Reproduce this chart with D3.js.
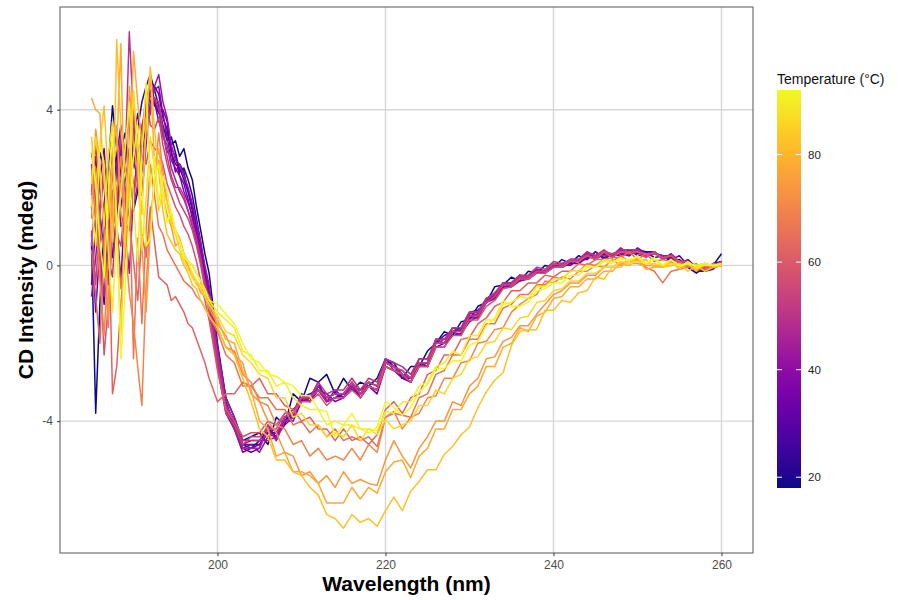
<!DOCTYPE html>
<html>
<head>
<meta charset="utf-8">
<script src="https://cdn.jsdelivr.net/npm/d3@7"></script>
<style>
  body { margin: 0; background: #fff; }
  svg { font-family: "Liberation Sans", Arial, Helvetica, sans-serif; }
  .tick text { fill: #4d4d4d; font-size: 12px; }
  .tick line { stroke: #333; }
  .domain { display: none; }
</style>
</head>
<body>
<svg id="chart" width="898" height="600"></svg>
<script>
// wavelength grid (nm): half-nm readings in the noisy far-UV part, then 1 nm
const wavelengths = d3.range(185, 199.5, 0.5).concat(d3.range(200, 261));

// CD spectra (mdeg), one array per temperature
const cd18 = [0.6,-3.8,-1.0,1.2,2.5,4.1,3.0,1.5,2.2,2.8,1.4,1.9,3.1,3.9,4.4,4.1,4.0,3.5,3.4,3.1,3.2,2.8,3.0,2.5,2.2,1.5,0.9,0.3,-0.2,
  -2.0,-3.4,-3.9,-4.5,-4.4, -4.3,-4.6,-3.9,-4.1,-3.3,-3.5,-2.9,-3.0,-2.8,-3.3, -2.9,-3.2,-3.0,-3.1,-2.9, -2.4,-2.5,-2.9,-2.6,-2.6, -2.2,-2.0,-1.7,-1.8,-1.45,-1.4,-1.05,-0.95,-0.55,-0.5, -0.3,-0.4,-0.15,-0.2,0.0,-0.05,0.15,0.05,0.25,0.15, 0.35,0.2,0.3,0.25,0.4,0.3,0.35,0.2,0.25,0.1, 0.15,-0.05,-0.2,-0.05,0.0,0.3];
const cd22 = [1.5,0.8,2.9,2.5,-0.5,0.9,1.8,3.0,3.4,2.1,2.6,3.5,4.2,4.6,4.9,4.5,4.1,3.6,3.2,3.3,2.9,2.4,2.5,2.2,1.8,1.2,0.6,-0.1,-0.6,
  -2.3,-3.6,-4.0,-4.6,-4.7, -4.5,-4.2,-4.4,-3.9,-3.9,-3.4,-3.3,-3.2,-3.5,-3.4, -3.3,-3.0,-3.3,-3.0,-3.1, -2.4,-2.6,-2.8,-2.9,-2.5, -2.5,-1.9,-1.9,-1.7,-1.65,-1.35,-1.25,-0.85,-0.75,-0.45, -0.45,-0.3,-0.3,-0.1,-0.15,0.0,-0.05,0.1,0.1,0.25, 0.2,0.3,0.25,0.4,0.25,0.4,0.35,0.35,0.2,0.25, 0.1,0.1,-0.15,-0.15,-0.05,0.1];
const cd26 = [2.9,2.2,0.3,-1.0,0.4,1.5,2.8,3.6,2.4,2.0,3.2,3.9,3.3,4.2,4.7,4.6,4.4,3.8,3.5,2.9,2.6,2.5,2.2,1.9,1.4,0.8,0.3,-0.3,-0.9,
  -2.5,-3.7,-4.2,-4.7,-4.6, -4.6,-4.3,-4.3,-4.0,-3.8,-3.3,-3.5,-3.1,-3.4,-3.3, -3.4,-3.1,-3.2,-3.1,-3.2, -2.5,-2.5,-2.9,-2.9,-2.4, -2.4,-2.0,-1.8,-1.7,-1.6,-1.2,-1.15,-0.95,-0.75,-0.5, -0.45,-0.25,-0.35,-0.15,-0.15,0.0,-0.05,0.15,0.15,0.35, 0.15,0.3,0.3,0.35,0.35,0.35,0.3,0.3,0.25,0.2, 0.05,0.15,-0.05,-0.1,-0.05,0.05];
const cd30 = [-0.5,1.0,2.2,3.0,1.4,0.2,1.3,2.6,1.9,1.2,4.0,3.1,2.7,3.8,4.5,4.2,3.9,4.0,3.7,2.9,2.4,2.6,2.4,1.9,1.5,1.0,0.5,-0.2,-0.8,
  -2.2,-3.5,-4.1,-4.7,-4.8, -4.7,-4.1,-4.5,-3.9,-3.7,-3.5,-3.4,-3.0,-3.5,-3.4, -3.3,-3.1,-3.4,-3.1,-3.2, -2.5,-2.6,-2.8,-3.0,-2.5, -2.6,-2.0,-2.0,-1.6,-1.7,-1.3,-1.25,-0.9,-0.8,-0.55, -0.5,-0.35,-0.35,-0.15,-0.15,-0.05,0.05,0.0,0.15,0.15, 0.35,0.15,0.3,0.25,0.4,0.25,0.3,0.3,0.25,0.15, 0.25,0.0,-0.05,-0.15,0.05,0.1];
const cd34 = [0.8,-1.2,0.5,1.6,2.3,2.8,1.1,-0.4,1.6,3.0,2.7,2.2,3.1,3.8,4.8,4.2,3.7,3.4,2.9,3.0,2.8,2.3,2.1,1.7,1.2,0.8,0.2,-0.4,-1.0,
  -2.6,-3.8,-4.2,-4.8,-4.7, -4.6,-4.3,-4.4,-4.1,-3.9,-3.4,-3.5,-3.2,-3.3,-3.5, -3.4,-3.2,-3.3,-3.1,-3.3, -2.6,-2.7,-2.9,-3.0,-2.6, -2.6,-2.1,-2.0,-1.8,-1.75,-1.45,-1.3,-0.95,-0.85,-0.55, -0.55,-0.35,-0.35,-0.2,-0.2,-0.05,-0.05,0.05,0.05,0.2, 0.2,0.35,0.2,0.4,0.25,0.4,0.25,0.35,0.2,0.2, 0.05,0.05,-0.1,-0.15,-0.1,0.1];
const cd38 = [1.9,2.8,1.2,0.4,1.7,3.2,2.5,1.0,1.4,2.3,3.5,2.6,1.8,3.1,4.2,4.5,4.6,3.9,3.3,2.7,2.5,2.3,1.9,1.6,1.3,0.9,0.4,-0.1,-0.7,
  -2.4,-3.6,-4.1,-4.6,-4.6, -4.8,-4.4,-4.3,-4.0,-4.0,-3.5,-3.4,-3.2,-3.5,-3.2, -3.4,-3.0,-3.4,-3.1,-3.2, -2.6,-2.7,-2.8,-3.0,-2.6, -2.5,-2.1,-2.1,-1.7,-1.8,-1.35,-1.35,-0.95,-0.85,-0.55, -0.55,-0.4,-0.35,-0.15,-0.2,0.0,-0.05,0.15,0.1,0.25, 0.15,0.35,0.25,0.3,0.25,0.45,0.3,0.35,0.15,0.3, 0.1,0.05,-0.15,-0.1,-0.05,0.0];
const cd42 = [-0.8,0.2,1.4,2.2,0.6,1.2,2.5,3.3,1.0,-0.2,1.8,2.9,3.2,3.6,3.9,4.6,4.9,4.2,3.8,3.1,2.7,2.6,2.3,2.0,1.6,1.1,0.6,0.0,-0.5,
  -2.1,-3.4,-3.9,-4.6,-4.5, -4.5,-4.5,-4.4,-3.9,-3.8,-3.4,-3.5,-3.1,-3.4,-3.3, -3.3,-3.1,-3.2,-3.0,-3.1, -2.4,-2.7,-2.7,-2.9,-2.5, -2.5,-1.9,-2.0,-1.6,-1.7,-1.25,-1.2,-0.85,-0.75,-0.45, -0.45,-0.25,-0.3,-0.1,-0.15,0.05,0.0,0.15,0.15,0.3, 0.25,0.3,0.25,0.45,0.3,0.35,0.25,0.3,0.25,0.25, 0.05,0.1,-0.1,-0.05,0.0,0.1];
const cd46 = [2.6,1.6,0.4,-0.8,0.9,2.4,1.5,2.0,3.1,3.8,1.5,2.1,3.6,4.0,4.4,4.3,4.0,3.3,3.1,2.5,2.2,1.9,1.7,1.4,1.0,0.6,0.1,-0.5,-1.1,
  -2.5,-3.7,-4.2,-4.7,-4.7, -4.7,-4.2,-4.5,-4.0,-3.9,-3.4,-3.4,-3.2,-3.5,-3.4, -3.4,-3.1,-3.3,-3.1,-3.2, -2.5,-2.6,-2.8,-2.9,-2.5, -2.5,-2.0,-1.9,-1.7,-1.7,-1.3,-1.25,-0.9,-0.75,-0.5, -0.5,-0.3,-0.35,-0.15,-0.15,0.0,-0.05,0.15,0.1,0.3, 0.25,0.25,0.25,0.35,0.35,0.4,0.25,0.35,0.2,0.25, 0.1,0.1,-0.1,-0.1,-0.05,0.05];
const cd50 = [1.8,3.1,2.0,1.1,0.2,-0.3,1.5,3.4,2.6,6.0,3.8,2.0,2.4,3.3,4.0,4.3,4.2,3.5,2.8,2.3,2.0,2.0,1.8,1.4,1.1,0.7,0.2,-0.4,-0.9,
  -2.3,-3.6,-4.0,-4.5,-4.5, -4.5,-4.1,-4.3,-3.9,-3.8,-3.3,-3.4,-3.0,-3.3,-3.2, -3.2,-2.9,-3.2,-2.9,-3.0, -2.4,-2.5,-2.6,-2.8,-2.4, -2.4,-1.9,-1.9,-1.6,-1.6,-1.2,-1.2,-0.85,-0.7,-0.45, -0.45,-0.25,-0.25,-0.05,-0.1,0.1,0.05,0.15,0.15,0.35, 0.25,0.4,0.25,0.4,0.4,0.4,0.25,0.35,0.2,0.25, 0.1,0.1,-0.05,-0.05,0.0,0.05];
const cd54 = [0.9,-0.5,1.3,2.7,2.2,1.9,0.8,0.5,1.7,2.9,2.1,2.3,3.4,4.4,3.6,3.5,3.8,3.1,2.6,2.2,1.9,1.6,1.4,1.2,0.9,0.5,0.0,-0.6,-1.2,
  -2.6,-3.8,-4.1,-4.6,-4.4, -4.4,-4.2,-4.2,-3.8,-3.8,-3.4,-3.4,-3.2,-3.4,-3.3, -3.3,-3.0,-3.3,-3.0,-3.1, -2.5,-2.6,-2.7,-2.9,-2.5, -2.5,-2.0,-2.0,-1.7,-1.7,-1.3,-1.3,-0.95,-0.8,-0.5, -0.5,-0.3,-0.3,-0.15,-0.15,0.05,0.0,0.15,0.15,0.25, 0.2,0.35,0.3,0.35,0.35,0.35,0.2,0.35,0.15,0.25, 0.05,0.05,-0.15,0.0,-0.05,0.1];
const cd58 = [0.5,1.9,0.2,-2.3,-1.0,0.8,2.0,2.2,1.1,0.9,1.7,2.5,3.1,2.6,3.2,3.0,2.9,2.6,2.1,1.8,1.5,1.3,1.0,0.8,0.5,0.1,-0.4,-0.9,-1.4,
  -2.7,-3.7,-4.0,-4.4,-4.3, -4.3,-4.0,-4.1,-3.8,-3.8,-3.5,-3.5,-3.3,-3.6,-3.4, -3.4,-3.2,-3.4,-3.1,-3.2, -2.6,-2.7,-2.8,-3.0,-2.6, -2.6,-2.1,-2.1,-1.8,-1.8,-1.4,-1.4,-1.05,-0.9,-0.6, -0.55,-0.35,-0.35,-0.2,-0.2,-0.05,-0.05,0.1,0.1,0.25, 0.15,0.35,0.2,0.35,0.3,0.35,0.3,0.3,0.2,0.25, 0.1,0.1,-0.05,-0.05,-0.05,0.05];
const cd62 = [0.4,-0.8,-2.0,0.6,1.4,-3.3,-2.6,-1.0,0.3,1.2,0.1,-0.9,0.8,0.2,1.5,0.6,-0.3,-0.4,-0.5,-0.9,-0.8,-1.0,-1.2,-1.5,-1.6,-1.9,-2.2,-2.5,-2.9,
  -3.5,-3.3,-3.3,-3.0,-3.1, -2.9,-3.3,-3.3,-3.6,-3.7,-4.0,-3.9,-4.2,-4.2,-4.5, -4.2,-4.5,-4.4,-4.6,-4.35, -3.7,-3.5,-3.8,-3.4,-3.3, -2.8,-2.7,-2.3,-2.3,-1.9,-1.85,-1.5,-1.35,-1.05,-0.95, -0.65,-0.65,-0.45,-0.45,-0.25,-0.3,-0.15,-0.15,0.05,0.0, 0.15,0.15,0.2,0.2,0.35,0.15,0.3,0.1,0.15,0.1, 0.1,-0.05,-0.05,-0.1,0.05,0.0];
const cd66 = [1.2,2.5,1.0,0.3,-1.6,1.7,0.9,-0.6,0.5,2.1,-2.4,0.7,-1.5,0.9,2.6,1.8,1.0,0.8,0.4,0.2,0.0,-0.2,-0.4,-0.5,-0.6,-0.8,-0.9,-1.1,-1.3,
  -1.7,-2.3,-2.5,-3.1,-3.1, -3.4,-3.4,-3.7,-3.7,-4.1,-4.0,-4.3,-4.1,-4.4,-4.2, -4.5,-4.4,-4.5,-4.4,-4.65, -3.9,-3.8,-3.85,-3.9,-3.4, -3.3,-2.8,-2.7,-2.3,-2.3,-1.9,-1.9,-1.5,-1.5,-1.1, -1.0,-0.75,-0.75,-0.5,-0.5,-0.3,-0.35,-0.15,-0.15,0.05, 0.0,0.15,0.1,0.25,0.1,0.15,-0.05,-0.15,-0.45,-0.15, -0.1,-0.05,0.05,-0.15,0.0,0.0];
const cd70 = [2.4,1.3,-0.4,-1.8,0.2,0.9,1.9,2.8,0.6,-0.7,-1.5,-2.6,-3.6,-0.5,1.1,2.2,3.4,2.4,1.6,1.2,0.9,0.6,0.3,0.1,0.0,-0.2,-0.4,-0.6,-0.8,
  -1.6,-2.1,-2.2,-2.8,-3.0, -3.5,-3.6,-4.1,-4.2,-4.6,-4.5,-4.9,-4.7,-5.0,-4.9, -5.0,-4.7,-5.0,-4.6,-4.8, -3.9,-3.75,-4.2,-3.9,-3.8, -3.4,-3.35,-2.9,-2.9,-2.5,-2.45,-2.0,-1.95,-1.65,-1.6, -1.2,-1.0,-0.85,-0.75,-0.4,-0.45,-0.3,-0.35,-0.15,-0.15, 0.0,-0.05,0.15,0.0,0.15,0.1,0.15,-0.05,0.0,0.0, 0.05,0.0,-0.1,0.05,-0.05,0.05];
const cd74 = [1.5,3.5,2.6,0.8,-1.4,2.9,3.6,1.4,0.3,4.6,3.1,2.4,0.5,-1.2,0.9,2.2,2.7,1.8,1.3,1.0,0.5,0.6,0.2,0.0,-0.3,-0.4,-0.7,-0.8,-1.1,
  -1.5,-1.8,-2.3,-2.5,-3.3, -3.5,-4.0,-4.3,-4.8,-4.9,-5.4,-5.3,-5.6,-5.4,-5.7, -5.3,-5.6,-5.5,-5.6,-5.65, -5.0,-4.5,-4.9,-5.2,-4.7, -4.4,-4.0,-4.0,-3.5,-3.6,-3.1,-2.9,-2.4,-2.35,-1.95, -1.85,-1.55,-1.55,-1.25,-1.0,-0.75,-0.65,-0.45,-0.45,-0.25, -0.25,-0.05,-0.05,0.1,0.05,0.05,0.0,0.0,-0.05,0.1, -0.05,0.0,0.0,0.05,-0.05,0.0];
const cd78 = [4.3,4.0,3.9,2.1,1.2,2.6,3.0,5.7,0.5,2.4,5.5,4.2,3.1,3.8,5.0,2.6,3.0,2.2,1.6,1.2,0.9,0.7,0.3,0.0,-0.2,-0.4,-0.6,-0.8,-1.0,
  -1.4,-1.9,-2.0,-2.7,-3.2, -4.0,-4.2,-4.9,-4.8,-5.3,-5.3,-5.4,-5.6,-6.1,-6.1, -6.1,-5.7,-6.0,-5.7,-5.85, -5.3,-5.05,-5.0,-5.45,-4.9, -4.7,-4.2,-4.2,-3.7,-3.7,-3.3,-3.1,-2.6,-2.6,-2.1, -2.0,-1.6,-1.7,-1.3,-1.2,-0.85,-0.8,-0.55,-0.55,-0.35, -0.35,-0.15,-0.15,0.05,0.0,0.15,-0.1,-0.05,-0.05,0.1, -0.1,0.05,-0.15,0.05,0.0,0.0];
const cd82 = [3.3,2.0,3.1,4.1,2.2,0.6,5.8,3.5,2.5,1.6,4.4,2.8,1.3,3.6,5.1,3.5,2.4,1.4,0.8,0.6,0.4,0.3,0.0,-0.2,-0.5,-0.6,-0.9,-1.1,-1.3,
  -1.6,-2.1,-2.3,-2.9,-3.5, -4.2,-4.4,-5.0,-5.0,-5.3,-5.4,-5.7,-5.9,-6.4,-6.5, -6.75,-6.4,-6.6,-6.5,-6.7, -6.3,-5.95,-6.3,-5.8,-5.55, -5.25,-5.25,-4.85,-4.65,-4.35,-4.15,-3.65,-3.25,-2.95,-2.75, -2.05,-1.7,-1.65,-1.65,-1.15,-1.15,-0.9,-0.95,-0.7,-0.65, -0.3,-0.35,-0.05,-0.05,0.15,0.1,0.15,-0.05,-0.05,0.0, 0.05,-0.15,0.0,-0.15,-0.05,0.0];
const cd86 = [2.1,3.3,2.4,1.0,2.8,3.7,0.7,-1.8,0.9,2.7,4.5,3.0,0.4,1.7,3.3,2.5,1.4,1.9,1.6,1.1,0.8,0.4,0.1,-0.1,-0.3,-0.5,-0.6,-0.8,-1.0,
  -1.3,-1.7,-1.8,-2.3,-2.5, -2.8,-2.9,-3.4,-3.4,-3.9,-3.8,-4.1,-4.1,-4.4,-4.3, -4.4,-4.1,-4.5,-4.2,-4.35, -3.95,-4.2,-4.1,-4.0,-3.6, -3.6,-3.2,-3.3,-2.9,-2.8,-2.4,-2.35,-2.0,-1.95,-1.6, -1.65,-1.35,-1.3,-0.95,-0.9,-0.65,-0.6,-0.4,-0.4,-0.2, -0.2,-0.05,-0.05,0.1,0.05,0.1,0.05,0.05,0.0,0.05, 0.0,0.05,-0.1,0.05,0.0,0.0];
const cd90 = [1.7,0.5,3.2,2.6,0.4,-1.2,0.8,1.9,3.0,4.2,1.6,0.1,2.8,4.7,2.0,2.8,1.6,2.3,1.9,1.3,0.9,0.6,0.3,0.1,-0.2,-0.4,-0.5,-0.7,-0.9,
  -1.2,-1.4,-1.6,-2.2,-2.3, -2.7,-2.7,-3.1,-3.0,-3.4,-3.6,-3.7,-3.7,-4.1,-4.0, -4.1,-4.1,-4.2,-4.2,-4.25, -3.75,-3.8,-3.5,-3.5,-3.1, -3.0,-2.6,-2.5,-2.2,-2.3,-1.8,-1.8,-1.4,-1.4,-1.0, -0.95,-0.8,-0.85,-0.55,-0.55,-0.35,-0.35,-0.15,-0.15,0.0, -0.05,0.15,0.1,0.15,0.15,0.2,0.05,0.15,0.0,0.15, -0.05,0.1,-0.05,0.0,0.0,0.05];
const cd92 = [3.0,2.1,0.6,-0.3,1.8,3.4,1.2,-2.4,-0.6,1.4,2.8,3.6,1.9,0.5,0.7,2.3,2.6,1.8,1.1,1.4,0.9,0.6,0.2,0.1,0.0,-0.2,-0.4,-0.6,-0.9,
  -1.0,-1.25,-1.5,-2.0,-2.4, -2.5,-2.8,-2.85,-3.0,-3.1,-3.35,-3.35,-3.7,-3.75,-4.4, -4.1,-3.8,-4.2,-4.3,-4.15, -3.5,-3.65,-3.85,-3.65,-3.25, -3.05,-2.65,-2.65,-2.45,-2.45,-2.05,-1.95,-1.55,-1.35,-0.9, -1.05,-1.05,-0.95,-0.65,-0.6,-0.45,-0.45,-0.25,-0.25,-0.05, -0.05,0.1,0.05,0.2,0.1,0.25,0.05,0.2,0.0,0.15, 0.0,0.05,0.0,0.05,0.0,0.05];

const temps = [18, 22, 26, 30, 34, 38, 42, 46, 50, 54, 58, 62, 66, 70, 74, 78, 82, 86, 90, 92];
const spectra = [cd18, cd22, cd26, cd30, cd34, cd38, cd42, cd46, cd50, cd54, cd58, cd62, cd66, cd70, cd74, cd78, cd82, cd86, cd90, cd92];

const xTicks = [200, 220, 240, 260];
const yTicks = [-4, 0, 4];
const legendTicks = [20, 40, 60, 80];

const series = temps.map((t, i) => ({ temp: t, values: spectra[i] }));

const panel = { left: 60, right: 753, top: 7, bottom: 553 };

const svg = d3.select('#chart');

// ggplot style 5% expansion
const xExt = d3.extent(wavelengths);
const xPad = (xExt[1] - xExt[0]) * 0.05;
const x = d3.scaleLinear()
  .domain([xExt[0] - xPad, xExt[1] + xPad])
  .range([panel.left, panel.right]);

const allVals = spectra.flat();
const yExt = d3.extent(allVals);
const yPad = (yExt[1] - yExt[0]) * 0.05;
const y = d3.scaleLinear()
  .domain([yExt[0] - yPad, yExt[1] + yPad])
  .range([panel.bottom, panel.top]);

const color = d3.scaleSequential(d3.interpolatePlasma).domain(d3.extent(temps));

// grid
const grid = svg.append('g');
grid.selectAll('.gx').data(xTicks).enter().append('line')
  .attr('x1', d => x(d)).attr('x2', d => x(d))
  .attr('y1', panel.top).attr('y2', panel.bottom)
  .attr('stroke', '#d6d6d6').attr('stroke-width', 1.4);
grid.selectAll('.gy').data(yTicks).enter().append('line')
  .attr('x1', panel.left).attr('x2', panel.right)
  .attr('y1', d => y(d)).attr('y2', d => y(d))
  .attr('stroke', '#d6d6d6').attr('stroke-width', 1.4);

// spectra
const line = d3.line()
  .defined((d, i) => i < wavelengths.length)
  .x((d, i) => x(wavelengths[i]))
  .y(d => y(d));

svg.append('g')
  .attr('fill', 'none')
  .attr('stroke-width', 1.5)
  .attr('stroke-linejoin', 'round')
  .selectAll('path')
  .data(series)
  .enter()
  .append('path')
  .attr('stroke', d => color(d.temp))
  .attr('d', d => line(d.values));

// panel border
svg.append('rect')
  .attr('x', panel.left).attr('y', panel.top)
  .attr('width', panel.right - panel.left)
  .attr('height', panel.bottom - panel.top)
  .attr('fill', 'none').attr('stroke', '#555').attr('stroke-width', 1);

// axes
svg.append('g')
  .attr('transform', `translate(0,${panel.bottom})`)
  .call(d3.axisBottom(x).tickValues(xTicks).tickSize(3).tickPadding(4))
  .selectAll('text').style('font-size', '12px');

svg.append('g')
  .attr('transform', `translate(${panel.left},0)`)
  .call(d3.axisLeft(y).tickValues(yTicks).tickSize(3).tickPadding(4).tickFormat(d => String(d)))
  .selectAll('text').style('font-size', '12px');

// titles
svg.append('text')
  .attr('x', (panel.left + panel.right) / 2).attr('y', 591)
  .attr('text-anchor', 'middle')
  .style('font-size', '21px').style('font-weight', 'bold')
  .text('Wavelength (nm)');

svg.append('text')
  .attr('transform', `translate(33,${(panel.top + panel.bottom) / 2}) rotate(-90)`)
  .attr('text-anchor', 'middle')
  .style('font-size', '21px').style('font-weight', 'bold')
  .text('CD Intensity (mdeg)');

// colour bar legend
const bar = { x: 777, w: 24, top: 90, bottom: 488 };
const lg = d3.scaleLinear().domain(d3.extent(temps)).range([bar.bottom, bar.top]);

const grad = svg.append('defs').append('linearGradient')
  .attr('id', 'plasma').attr('x1', 0).attr('x2', 0).attr('y1', 1).attr('y2', 0);
d3.range(0, 1.0001, 0.05).forEach(t => {
  grad.append('stop').attr('offset', t).attr('stop-color', d3.interpolatePlasma(t));
});

svg.append('rect')
  .attr('x', bar.x).attr('y', bar.top)
  .attr('width', bar.w).attr('height', bar.bottom - bar.top)
  .attr('fill', 'url(#plasma)');

const lt = svg.append('g');
lt.selectAll('.tl').data(legendTicks).enter().append('line')
  .attr('x1', bar.x).attr('x2', bar.x + 5)
  .attr('y1', d => lg(d)).attr('y2', d => lg(d))
  .attr('stroke', '#fff').attr('stroke-width', 1);
lt.selectAll('.tr').data(legendTicks).enter().append('line')
  .attr('x1', bar.x + bar.w - 5).attr('x2', bar.x + bar.w)
  .attr('y1', d => lg(d)).attr('y2', d => lg(d))
  .attr('stroke', '#fff').attr('stroke-width', 1);
lt.selectAll('text').data(legendTicks).enter().append('text')
  .attr('x', bar.x + bar.w + 7).attr('y', d => lg(d) + 4)
  .style('font-size', '11.5px').attr('fill', '#222')
  .text(d => d);

svg.append('text')
  .attr('x', bar.x).attr('y', 84)
  .style('font-size', '14px').attr('fill', '#111')
  .text('Temperature (°C)');
</script>
</body>
</html>
